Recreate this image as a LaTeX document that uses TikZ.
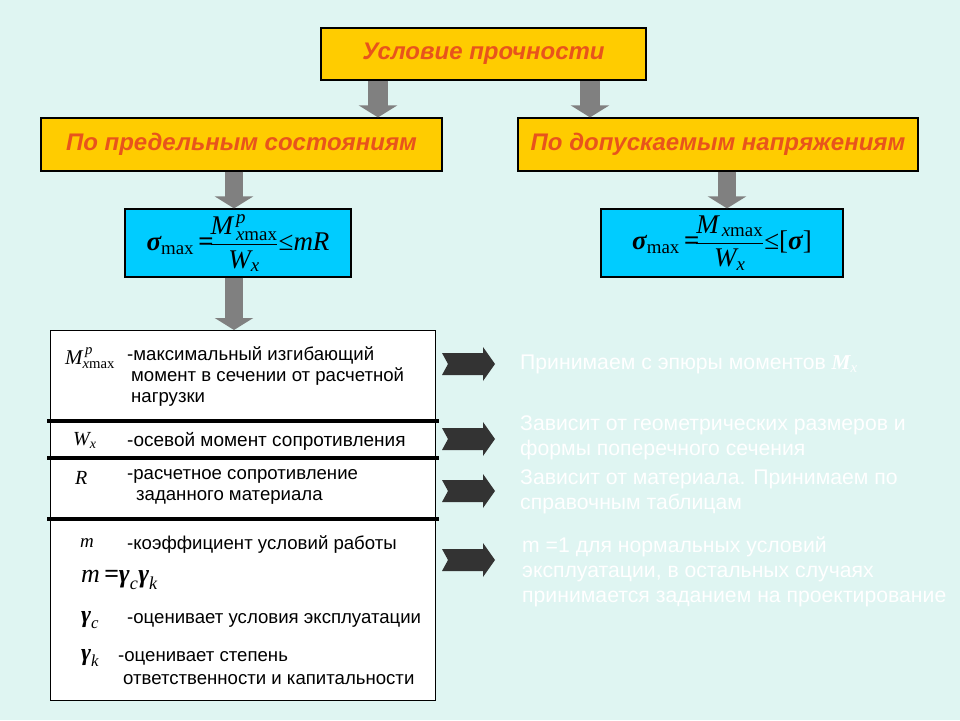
\documentclass[tikz,border=0pt]{standalone}
\usepackage{amsmath}
\usepackage{fontspec}
\setmainfont{Liberation Sans}
\newfontfamily\tnr{Liberation Serif}
\usetikzlibrary{arrows.meta,calc}
\definecolor{bgc}{HTML}{DFF5F2}
\definecolor{gold}{HTML}{FFCC00}
\definecolor{hdr}{HTML}{E8541C}
\definecolor{cyanbox}{HTML}{00CCFF}
\definecolor{garrow}{HTML}{808080}
\definecolor{darr}{HTML}{333333}
\newcommand\TI[1]{\text{\tnr\itshape #1}}
\newcommand\TR[1]{\text{\tnr #1}}
\newcommand\TB[1]{\text{\tnr\bfseries\itshape #1}}
\newcommand\darkarrow[1]{%
  \fill[darr] (442,#1-11) -- (483,#1-11) -- (483,#1-17) -- (495,#1) -- (483,#1+17)
    -- (483,#1+11) -- (442,#1+11) -- (448,#1) -- cycle;}
\begin{document}
\begin{tikzpicture}[x=1pt,y=-1pt,
  hbox/.style={draw=black, line width=1.2pt, fill=gold, text=hdr,
    font=\fontsize{24}{28}\selectfont\bfseries\itshape, inner sep=0pt},
  fbox/.style={draw=black, line width=1.2pt, fill=cyanbox, inner sep=0pt,
    font=\fontsize{27}{30}\selectfont},
  garr/.style={draw=garrow, line width=#1, -{Triangle[length=12pt,width=38pt]}},
  garr/.default=20pt,
  tt/.style={anchor=west, inner sep=0pt, font=\fontsize{18.6}{22}\selectfont},
  sym/.style={anchor=west, inner sep=0pt, font=\fontsize{21}{22}\selectfont},
  wt/.style={anchor=west, align=left, text=white, inner sep=0pt,
    font=\fontsize{21.2}{25}\selectfont},
  sep/.style={line width=3.5pt}]
\fill[bgc] (0,0) rectangle (960,720);
\useasboundingbox (0,0) rectangle (960,720);

% header boxes
\node[hbox, minimum width=325pt, minimum height=52pt] (top) at (483.5,54) {Условие прочности};
\node[hbox, minimum width=401pt, minimum height=53pt] (left) at (241.5,144.5) {По предельным состояниям};
\node[hbox, minimum width=400pt, minimum height=53pt] (right) at (718,144.5) {По допускаемым напряжениям};

% formula boxes
\node[fbox, minimum width=226pt, minimum height=68pt] (lf) at (238,243)
  {$\displaystyle \TB{σ}_{\TR{max}}\,\TB{=}\!\frac{\TI{M}^{\,\TI{p}}_{\,\TI{x}\TR{max}}}{\TI{W}_{\TI{x}}}\TR{≤}\TI{mR}$};
\node[fbox, minimum width=242pt, minimum height=68pt] (rf) at (722,243)
  {$\displaystyle \TB{σ}_{\TR{max}}\,\TB{=}\!\frac{\TI{M}_{\,\TI{x}\TR{max}}}{\TI{W}_{\TI{x}}}\TR{≤[}\TB{σ}\TR{]}$};

% table
\node[draw=black, line width=1.2pt, fill=white, minimum width=385pt, minimum height=370pt,
  anchor=north west, inner sep=0pt] (tab) at (50,330) {};
\draw[sep] ($(tab.north west)+(-3,91)$) -- ($(tab.north east)+(3,91)$);
\draw[sep] ($(tab.north west)+(-3,128)$) -- ($(tab.north east)+(3,128)$);
\draw[sep] ($(tab.north west)+(-3,189)$) -- ($(tab.north east)+(3,189)$);

% arrow columns
\coordinate (c1) at (378,0);
\coordinate (c2) at (590,0);
\coordinate (c3) at (234,0);
\coordinate (c4) at (727,0);
\draw[garr] (top.south -| c1) -- (left.north -| c1);
\draw[garr] (top.south -| c2) -- (right.north -| c2);
\draw[garr=18pt] (left.south -| c3) -- (lf.north -| c3);
\draw[garr=18pt] (right.south -| c4) -- (rf.north -| c4);
\draw[garr=18pt] (lf.south -| c3) -- (tab.north -| c3);

% table symbols
\node[sym] (s1) at (65,358) {$\TI{M}^{\,\TI{p}}_{\TI{x}\TR{max}}$};
\node[sym, font=\fontsize{20}{22}\selectfont] (s2) at (73,440) {$\TI{W}_{\TI{x}}$};
\node[sym, font=\fontsize{20}{22}\selectfont] (s3) at (75,478) {\tnr\itshape R};
\node[sym, font=\fontsize{19}{22}\selectfont] (s4) at (80,543) {\tnr\itshape m};
\node[sym, font=\fontsize{26}{28}\selectfont] (s5) at (81,580) {$\TI{m}\,\TB{=}\TB{γ}_{\TI{c}}\TB{γ}_{\TI{k}}$};
\node[sym, font=\fontsize{24}{26}\selectfont] (s6) at (81,620) {$\TB{γ}_{\TI{c}}$};
\node[sym, font=\fontsize{24}{26}\selectfont] (s7) at (81,658) {$\TB{γ}_{\TI{k}}$};

% table texts
\node[tt] (t1) at (127,355) {-максимальный изгибающий};
\node[tt] (t2) at (131,377) {момент в сечении от расчетной};
\node[tt] (t3) at (131,399) {нагрузки};
\node[tt, font=\fontsize{19}{22}\selectfont] (t4) at (127,441) {-осевой момент сопротивления};
\node[tt] (t5) at (127,476) {-расчетное сопротивление};
\node[tt] (t6) at (136,497) {заданного материала};
\node[tt] (t7) at (127,545) {-коэффициент условий работы};
\node[tt] (t8) at (127,620) {-оценивает условия эксплуатации};
\node[tt] (t9) at (118,658) {-оценивает степень};
\node[tt] (t10) at (123,680) {ответственности и капитальности};

% dark arrows
\darkarrow{364}
\darkarrow{439}
\darkarrow{491}
\darkarrow{560}

% white notes
\node[wt] (w1) at (520,364) {Принимаем с эпюры моментов $\TB{M}_{\TI{x}}$};
\node[wt] (w2) at (520,437.5) {Зависит от геометрических размеров и\\формы поперечного сечения};
\node[wt] (w3) at (520,491.5) {Зависит от материала. Принимаем по\\справочным таблицам};
\node[wt] (w4) at (522,572) {m =1 для нормальных условий\\эксплуатации, в остальных случаях\\принимается заданием на проектирование};
\end{tikzpicture}
\end{document}
